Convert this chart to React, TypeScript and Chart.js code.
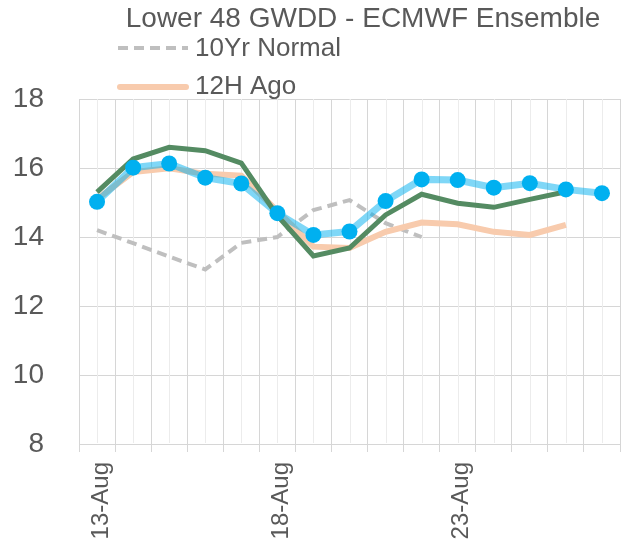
import React, { useEffect, useRef } from "react";
import { Chart, registerables } from "chart.js";

Chart.register(...registerables);

const categories = [
  "13-Aug", "14-Aug", "15-Aug", "16-Aug", "17-Aug", "18-Aug", "19-Aug", "20-Aug",
  "21-Aug", "22-Aug", "23-Aug", "24-Aug", "25-Aug", "26-Aug", "27-Aug",
];
const shownLabels = ["13-Aug", "18-Aug", "23-Aug"];
const yTicks = [8, 10, 12, 14, 16, 18];

const normal10Yr = [14.2, 13.82, 13.43, 13.06, 13.83, 14.0, 14.78, 15.07, 14.4, 14.0];
const ago12H = [15.1, 15.88, 15.99, 15.83, 15.78, 14.75, 13.72, 13.68, 14.15, 14.42, 14.37, 14.15, 14.06, 14.35];
const ecmwfPrev = [15.3, 16.26, 16.6, 16.5, 16.14, 14.62, 13.45, 13.68, 14.64, 15.24, 14.98, 14.86, 15.09, 15.31];
const ecmwfEns = [15.02, 16.01, 16.13, 15.72, 15.55, 14.69, 14.06, 14.16, 15.04, 15.67, 15.65, 15.43, 15.56, 15.38, 15.27];

const titleText = "Lower 48 GWDD - ECMWF Ensemble";
const legendNames = ["10Yr Normal", "12H Ago"];

const TEXT = "#595959";
const FONT = "'Liberation Sans', Arial, sans-serif";

const overlayPlugin = {
  id: "overlay",
  beforeDatasetsDraw(chart: any) {
    const { ctx, chartArea, scales } = chart;
    const xs = scales.x;
    ctx.save();
    ctx.strokeStyle = "#ececec";
    ctx.lineWidth = 1;
    for (let i = 0; i < categories.length; i++) {
      const x = Math.round(xs.getPixelForValue(i)) + 0.5;
      ctx.beginPath();
      ctx.moveTo(x, chartArea.top);
      ctx.lineTo(x, chartArea.bottom - 1);
      ctx.stroke();
    }
    ctx.restore();
  },
  afterDraw(chart: any) {
    const { ctx } = chart;
    ctx.save();
    ctx.fillStyle = TEXT;
    ctx.textBaseline = "middle";
    ctx.textAlign = "center";
    ctx.font = `28px ${FONT}`;
    ctx.fillText(titleText, 363, 19);

    ctx.font = `26px ${FONT}`;
    ctx.textAlign = "left";
    ctx.strokeStyle = "#bfbfbf";
    ctx.lineWidth = 4;
    ctx.setLineDash([10, 6]);
    ctx.beginPath();
    ctx.moveTo(118, 48);
    ctx.lineTo(188, 48);
    ctx.stroke();
    ctx.setLineDash([]);
    ctx.fillText(legendNames[0], 195, 49);
    ctx.strokeStyle = "#f8cbad";
    ctx.lineWidth = 6;
    ctx.lineCap = "round";
    ctx.beginPath();
    ctx.moveTo(120, 87);
    ctx.lineTo(186, 87);
    ctx.stroke();
    ctx.fillText(legendNames[1], 195, 87);
    ctx.restore();
  },
};

export default function App() {
  const ref = useRef<HTMLCanvasElement | null>(null);
  useEffect(() => {
    if (!ref.current) return;
    const chart = new Chart(ref.current, {
      type: "line",
      data: {
        labels: categories,
        datasets: [
          {
            label: "ECMWF Ens points",
            data: ecmwfEns,
            showLine: false,
            pointRadius: 8,
            pointBackgroundColor: "#00b0f0",
            pointBorderWidth: 0,
            borderColor: "#00b0f0",
            order: 0,
          },
          {
            label: "ECMWF Prev",
            data: ecmwfPrev,
            borderColor: "#548b62",
            borderWidth: 5,
            pointRadius: 0,
            tension: 0,
            order: 1,
          },
          {
            label: "ECMWF Ens",
            data: ecmwfEns,
            borderColor: "rgba(0,176,240,0.5)",
            borderWidth: 7,
            pointRadius: 0,
            tension: 0,
            order: 2,
          },
          {
            label: legendNames[1],
            data: ago12H,
            borderColor: "#f8cbad",
            borderWidth: 6,
            pointRadius: 0,
            tension: 0,
            order: 3,
          },
          {
            label: legendNames[0],
            data: normal10Yr,
            borderColor: "#bfbfbf",
            borderWidth: 4,
            borderDash: [10, 6],
            pointRadius: 0,
            tension: 0,
            order: 4,
          },
        ],
      },
      options: {
        animation: false,
        responsive: false,
        devicePixelRatio: 1,
        layout: { padding: { top: 99, left: 0, right: 7, bottom: 0 } },
        plugins: {
          legend: { display: false },
          title: { display: false },
          tooltip: { enabled: false },
        },
        scales: {
          x: {
            type: "category",
            offset: true,
            afterFit: (axis: any) => {
              axis.paddingLeft = 0;
              axis.paddingRight = 0;
              axis.height = 108;
            },
            grid: {
              offset: true,
              color: "#d6d6d6",
              lineWidth: 1,
              drawTicks: true,
              tickLength: 8,
              tickColor: "#d6d6d6",
            },
            border: { display: true, color: "#d6d6d6" },
            ticks: {
              autoSkip: false,
              maxRotation: 90,
              minRotation: 90,
              padding: 10,
              labelOffset: 4,
              color: TEXT,
              font: { size: 24, family: FONT },
              callback: (_v: any, i: number) =>
                shownLabels.includes(categories[i]) ? categories[i] : "",
            },
          },
          y: {
            min: yTicks[0],
            max: yTicks[yTicks.length - 1],
            afterBuildTicks: (axis: any) => {
              axis.ticks = yTicks.map((v) => ({ value: v }));
            },
            afterFit: (axis: any) => {
              axis.width = 79;
            },
            grid: { color: "#d6d6d6", lineWidth: 1, drawTicks: false },
            border: { display: false },
            ticks: {
              padding: 35,
              color: TEXT,
              font: { size: 28, family: FONT },
            },
          },
        },
      },
      plugins: [overlayPlugin],
    });
    return () => chart.destroy();
  }, []);
  return (
    <div style={{ position: "fixed", left: 0, top: 0, width: 628, height: 552, background: "#fff" }}>
      <canvas ref={ref} width={628} height={552} style={{ display: "block" }} />
    </div>
  );
}
